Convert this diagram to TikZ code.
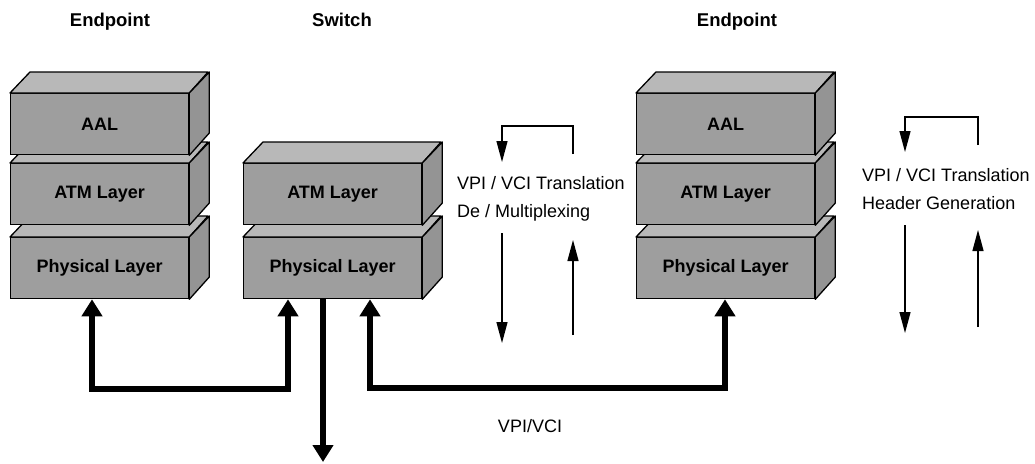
\documentclass[tikz,border=0pt]{standalone}
\usepackage{fontspec}
\setmainfont{Liberation Sans}
\usetikzlibrary{arrows.meta}

\definecolor{facefront}{gray}{0.62}
\definecolor{facetop}{gray}{0.72}
\definecolor{faceside}{gray}{0.58}

\tikzset{
  layerface/.style={draw=black, line width=1.3pt, fill=facefront, anchor=north west,
    minimum width=178pt, minimum height=61pt, inner sep=0pt,
    font=\bfseries\fontsize{18}{20}\selectfont},
  topface/.style={draw=black, line width=1.3pt, fill=facetop, line join=round},
  sideface/.style={draw=black, line width=1.3pt, fill=faceside, line join=round},
  heading/.style={font=\bfseries\fontsize{18.5}{20}\selectfont, anchor=base},
  note/.style={font=\fontsize{18}{20}\selectfont, anchor=base west, inner sep=0pt},
  bus/.style={line width=6pt, draw=black},
  bustip/.tip={Triangle[width=20pt,length=17pt]},
  flow/.style={line width=1.3pt, draw=black, -{Triangle[width=11pt,length=21pt]}},
}

% one layer block: name, top-left corner of the front face, label
\newcommand\stacklayer[3]{%
  \node[layerface] (#1) at #2 {#3};
  \draw[topface] (#1.north west) -- ++(20,-21) -- ++(178,0) -- (#1.north east) -- cycle;
  \draw[sideface] (#1.north east) -- ++(20,-21) -- ++(0,61) -- (#1.south east) -- cycle;
}

\begin{document}
\begin{tikzpicture}[x=1pt, y=-1pt]
\useasboundingbox (0,0) rectangle (1035,463);

% column headings
\node[heading] (h1) at (110,27) {Endpoint};
\node[heading] (h2) at (342,27) {Switch};
\node[heading] (h3) at (737,27) {Endpoint};

% left endpoint stack
\stacklayer{lP}{(10,237)}{Physical Layer}
\stacklayer{lT}{(10,163)}{ATM Layer}
\stacklayer{lA}{(10,93)}{AAL}

% switch stack
\stacklayer{sP}{(243,237)}{Physical Layer}
\stacklayer{sT}{(243,163)}{ATM Layer}

% right endpoint stack
\stacklayer{rP}{(636,237)}{Physical Layer}
\stacklayer{rT}{(636,163)}{ATM Layer}
\stacklayer{rA}{(636,93)}{AAL}

% physical links
\draw[bus, bustip-bustip] ([xshift=82pt]lP.south west) -- ++(0,90) -| ([xshift=45pt]sP.south west);
\draw[bus, bustip-bustip] ([xshift=127pt]sP.south west) -- ++(0,89) -| ([xshift=89pt]rP.south west);
\coordinate (out) at (323,462);
\draw[bus, -bustip] ([xshift=80pt]sP.south west) -- (out);
\node[note, anchor=base] (vv) at (530,432) {VPI/VCI};

% switch ATM functions
\node[note] (m1) at (457,189) {VPI / VCI Translation};
\node[note] (m2) at (457,217) {De / Multiplexing};
\coordinate (ma) at (573,154);
\coordinate (mb) at (502,162);
\draw[flow] (ma) -- (573,126) -| (mb);
\coordinate (mc) at (502,233);
\coordinate (md) at (502,343);
\draw[flow] (mc) -- (md);
\coordinate (me) at (573,335);
\coordinate (mf) at (573,240);
\draw[flow] (me) -- (mf);

% endpoint ATM functions
\node[note] (r1) at (862,181) {VPI / VCI Translation};
\node[note] (r2) at (862,209) {Header Generation};
\coordinate (ra) at (978,145);
\coordinate (rb) at (905,152);
\draw[flow] (ra) -- (978,117) -| (rb);
\coordinate (rc) at (905,225);
\coordinate (rd) at (905,333);
\draw[flow] (rc) -- (rd);
\coordinate (re) at (978,327);
\coordinate (rf) at (978,230);
\draw[flow] (re) -- (rf);
\end{tikzpicture}
\end{document}
